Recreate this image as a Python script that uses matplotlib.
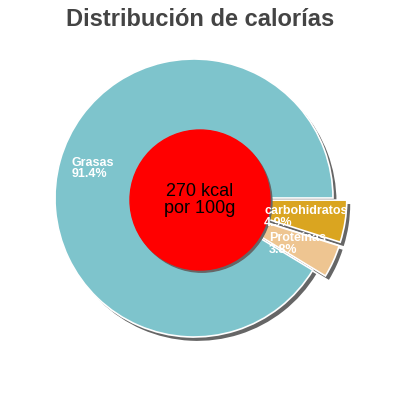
import matplotlib
matplotlib.use("Agg")
import matplotlib.pyplot as plt
from matplotlib.patches import Circle

labels = ["carbohidratos", "Proteínas", "Grasas"]
values = [4.9, 3.8, 91.4]
colors = ["#DAA520", "#EEC591", "#7EC4CC"]
explode = [0.1, 0.1, 0.0]
title = "Distribución de calorías"
center_text = "270 kcal\npor 100g"

plt.rcParams['font.family'] = ['Liberation Sans', 'DejaVu Sans']

S = 139.0
XL = (-194 / S, 206 / S)
YL = (-202 / S, 198 / S)

fig = plt.figure(figsize=(4, 4), dpi=100)
ax = fig.add_axes([0, 0, 1, 1])
ax.set_aspect('equal')
ax.axis('off')

# shadow
ax.pie(values, explode=explode, colors=["#666666"] * 3, startangle=0, counterclock=False,
       radius=1.0, center=(0.025, -0.028), wedgeprops=dict(linewidth=0))
# main pie
ax.pie(values, explode=explode, colors=colors, startangle=0, counterclock=False,
       radius=1.0, wedgeprops=dict(edgecolor='white', linewidth=1.2))
ax.set_xlim(*XL)
ax.set_ylim(*YL)

cc = (6 / S, -2 / S)
ax.add_patch(Circle((cc[0] + 0.014, cc[1] - 0.016), 70 / S, color='#666666', zorder=4))
ax.add_patch(Circle(cc, 70 / S, color='red', zorder=5))
ax.text(cc[0], cc[1], center_text, ha='center', va='center', fontsize=13, color='black',
        zorder=6, linespacing=0.95)

label_pos = {"Grasas": (-0.878, 0.212), "carbohidratos": (0.504, -0.137), "Proteínas": (0.54, -0.331)}
for lab, v in zip(labels, values):
    x, y = label_pos[lab]
    ax.text(x, y, f"{lab}\n{v}%", ha='left', va='center', fontsize=9, color='white',
            fontweight='bold', zorder=7, linespacing=0.95)

fig.text(0.5, 0.952, title, ha='center', va='center', fontsize=17, fontweight='bold',
         color='#444444')

fig.savefig("out.png", dpi=100)
